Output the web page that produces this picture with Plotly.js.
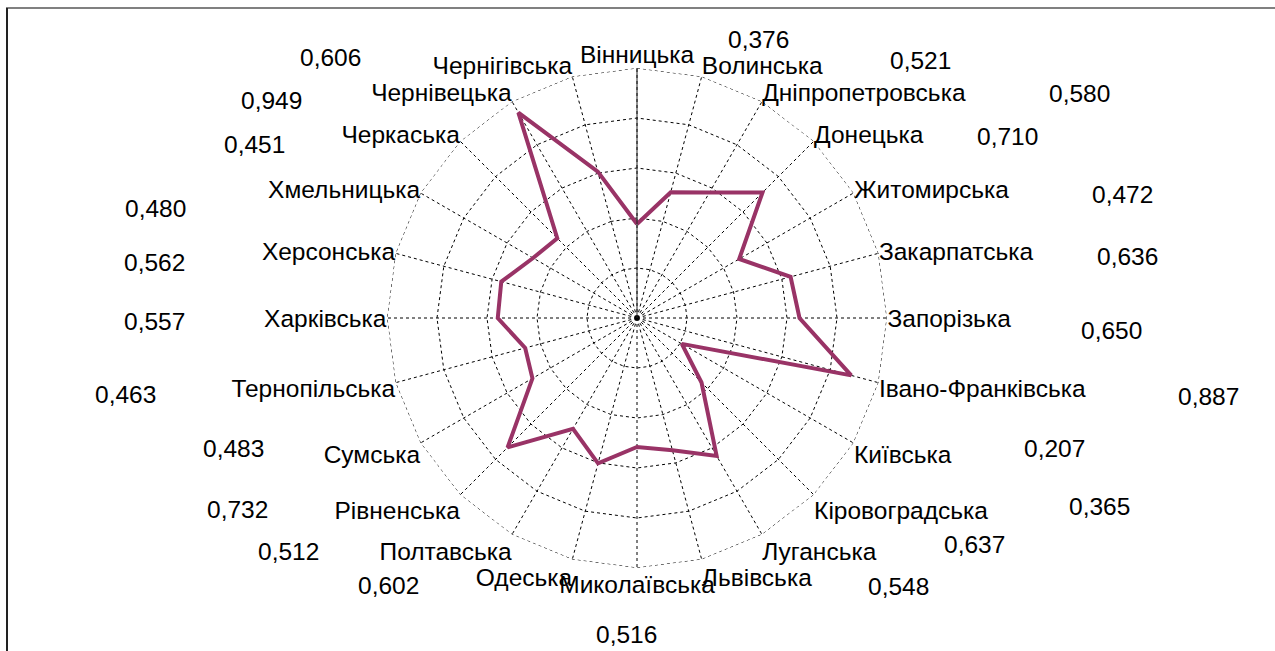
<!DOCTYPE html>
<html>
<head>
<meta charset="utf-8">
<script src="https://cdn.plot.ly/plotly-3.0.1.min.js"></script>
<style>html,body{margin:0;padding:0;background:#fff;}#chart{width:1275px;height:651px;}</style>
</head>
<body>
<div id="chart"></div>
<script>
const categories = ["Вінницька","Волинська","Дніпропетровська","Донецька","Житомирська","Закарпатська","Запорізька","Івано-Франківська","Київська","Кіровоградська","Луганська","Львівська","Миколаївська","Одеська","Полтавська","Рівненська","Сумська","Тернопільська","Харківська","Херсонська","Хмельницька","Черкаська","Чернівецька","Чернігівська"];
const values = [0.376,0.521,0.580,0.710,0.472,0.636,0.650,0.887,0.207,0.365,0.637,0.548,0.516,0.602,0.512,0.732,0.483,0.463,0.557,0.562,0.480,0.451,0.949,0.606];
const valueLabels = ["0,376","0,521","0,580","0,710","0,472","0,636","0,650","0,887","0,207","0,365","0,637","0,548","0,516","0,602","0,512","0,732","0,483","0,463","0,557","0,562","0,480","0,451","0,949","0,606"];
const axisMax = 1;
// label positions in pixels (layout only)
const labelPx = [[758,40],[920,60],[1079,94],[1008,137],[1122,195],[1127,256],[1111,330],[1208,397],[1054,448],[1099,506],[975,544],[898,586],[626,634],[388,585],[288,551],[237,509],[233,448],[125,394],[154,321],[154,262],[155,208],[254,145],[271,101],[331,58]];

const W = 1275, H = 651;
const font = {family: "Liberation Sans, Arial, sans-serif", size: 24.5, color: "#000"};

const outer = {
  type: "scatterpolar",
  r: categories.map(() => axisMax).concat([axisMax]),
  theta: categories.concat([categories[0]]),
  mode: "lines",
  line: {color: "#000", width: 1, dash: "dot"},
  hoverinfo: "skip"
};

const trace = {
  type: "scatterpolar",
  r: values.concat([values[0]]),
  theta: categories.concat([categories[0]]),
  mode: "lines",
  line: {color: "#993366", width: 4},
  hoverinfo: "skip"
};

const annotations = valueLabels.map((t, i) => ({
  text: t, xref: "paper", yref: "paper",
  x: labelPx[i][0] / W, y: 1 - labelPx[i][1] / H,
  xanchor: "center", yanchor: "middle", showarrow: false, font: font
}));

const layout = {
  width: W, height: H,
  margin: {l: 0, r: 0, t: 0, b: 0},
  paper_bgcolor: "#fff",
  showlegend: false,
  font: font,
  polar: {
    domain: {x: [387 / W, 887 / W], y: [1 - 568 / H, 1 - 68 / H]},
    bgcolor: "rgba(0,0,0,0)",
    gridshape: "linear",
    radialaxis: {
      range: [0, axisMax], tick0: 0, dtick: 0.2, angle: 90,
      showticklabels: false, ticks: "",
      showgrid: true, gridcolor: "#000", gridwidth: 1, griddash: "dot",
      showline: true, linecolor: "#222", linewidth: 1
    },
    angularaxis: {
      direction: "clockwise", rotation: 90,
      showgrid: true, gridcolor: "#000", gridwidth: 1, griddash: "dot",
      showline: false,
      ticks: "", tickfont: font
    }
  },
  annotations: annotations,
  shapes: [
    {type: "line", xref: "paper", yref: "paper", x0: 6 / W, x1: 1, y0: 1 - 8 / H, y1: 1 - 8 / H, line: {color: "#808080", width: 2}},
    {type: "line", xref: "paper", yref: "paper", x0: 7 / W, x1: 7 / W, y0: 0, y1: 1 - 8 / H, line: {color: "#222", width: 2}}
  ]
};

Plotly.newPlot("chart", [outer, trace], layout, {staticPlot: true, displayModeBar: false});
</script>
</body>
</html>
